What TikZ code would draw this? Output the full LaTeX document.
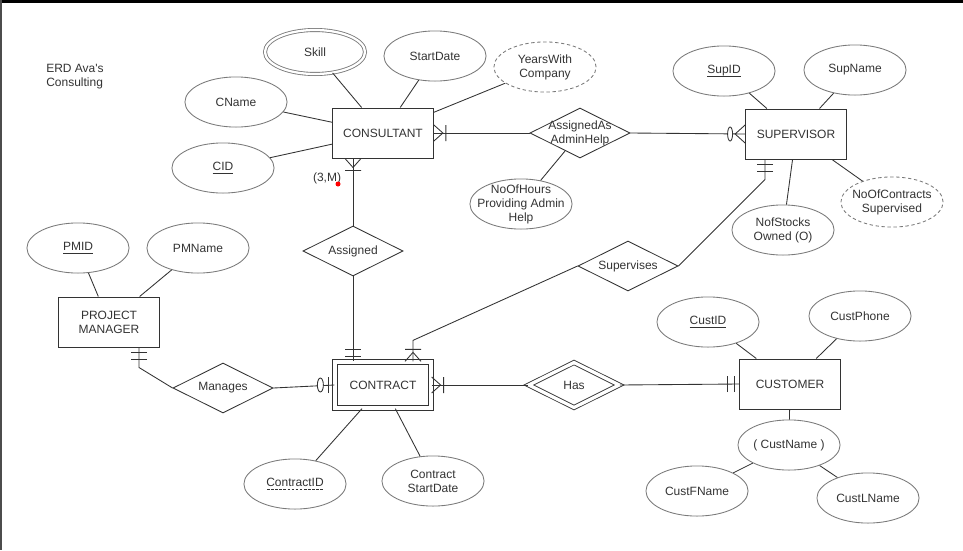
\documentclass[tikz,border=0pt]{standalone}
\usepackage{fontspec}
\setmainfont{Liberation Sans}
\usepackage{tikz}
\usetikzlibrary{shapes.geometric, calc}

\definecolor{inkgray}{HTML}{333333}
\definecolor{ovalgray}{HTML}{7A7A7A}

% key attribute: solid underline; partial key: dashed underline
\newcommand{\keyul}[1]{\setbox0\hbox{#1}\leavevmode\rlap{\copy0}\raisebox{-1.8pt}{\vrule width \wd0 height 0.6pt depth 0pt}}
\newcommand{\partul}[1]{\setbox0\hbox{#1}\leavevmode\rlap{\copy0}\raisebox{-1.8pt}{\hbox to \wd0{\xleaders\hbox to 3pt{\hss\vrule width 2pt height 0.6pt depth 0pt\hss}\hfil}}}

\begin{document}
\begin{tikzpicture}[
  x=0.75pt, y=-0.75pt,
  font=\fontsize{9}{10.5}\selectfont, text=inkgray,
  entity/.style ={rectangle, draw=inkgray, line width=0.65pt, align=center, minimum width=75.7pt, minimum height=37.6pt, inner sep=2pt},
  weak/.style   ={entity, double, double distance=3.1pt, minimum width=72.3pt, minimum height=34.8pt},
  attr/.style   ={ellipse, draw=ovalgray, line width=0.65pt, align=center, minimum width=76.6pt, minimum height=37.6pt, inner sep=-8pt},
  derived/.style={attr, dash pattern=on 2.5pt off 2pt},
  multi/.style  ={attr, double, double distance=1.7pt, minimum width=75pt, minimum height=33pt},
  rel/.style    ={diamond, shape aspect=2, draw=inkgray, line width=0.65pt, align=center, minimum width=75pt, minimum height=37.5pt, inner sep=-8pt},
  idrel/.style  ={rel, double, double distance=2.5pt, minimum width=68pt, minimum height=34pt},
  link/.style   ={draw=inkgray, line width=0.65pt},
  onemany/.pic  ={\draw[link] (0,-8) -- (9,0) -- (0,8) (12,-8) -- (12,8);},
  oneone/.pic   ={\draw[link] (5,-8) -- (5,8) (12,-8) -- (12,8);},
  zeromany/.pic ={\draw[link] (0,-9) -- (10,0) -- (0,9); \draw[link, fill=white] (15,0) ellipse [x radius=2.5, y radius=7];},
  zeroone/.pic  ={\draw[link] (6,-8) -- (6,8); \draw[link, fill=white] (14,0) ellipse [x radius=3, y radius=7];}
  ]

  \useasboundingbox (0,0) rectangle (963,550);
  \fill[black] (0,0) rectangle (963,3);
  \fill[black!70] (0,0) rectangle (1.5,550);

  \node[anchor=north west, align=left, inner sep=0pt] (title) at (46,64) {ERD Ava\textquotesingle s\\Consulting};

  % entities
  \node[entity] (CONSULTANT) at (383,133) {CONSULTANT};
  \node[entity] (SUPERVISOR) at (796,134) {SUPERVISOR};
  \node[entity] (PM)         at (109,322) {PROJECT\\MANAGER};
  \node[weak]   (CONTRACT)   at (383,385) {CONTRACT};
  \node[entity] (CUSTOMER)   at (790,384) {CUSTOMER};

  % relationships
  \node[rel]   (AAH)        at (580,133) {AssignedAs\\AdminHelp};
  \node[rel]   (Assigned)   at (353,251) {Assigned};
  \node[rel]   (Supervises) at (628,266) {Supervises};
  \node[rel]   (Manages)    at (223,388) {Manages};
  \node[idrel] (Has)        at (574,385) {Has};

  % attributes
  \node[multi]   (Skill)         at (315,52)  {Skill};
  \node[attr]    (StartDate)     at (435,56)  {StartDate};
  \node[derived] (YearsWith)     at (545,67)  {YearsWith\\Company};
  \node[attr]    (CName)         at (236,102) {CName};
  \node[attr]    (CID)           at (223,168) {\keyul{CID}};
  \node[attr]    (NoOfHours)     at (521,204) {NoOfHours\\Providing Admin\\Help};
  \node[attr]    (SupID)         at (724,71)  {\keyul{SupID}};
  \node[attr]    (SupName)       at (855,70)  {SupName};
  \node[attr]    (NofStocks)     at (783,230) {NofStocks\\Owned (O)};
  \node[derived] (NoOfContracts) at (892,202) {NoOfContracts\\Supervised};
  \node[attr]    (PMID)          at (78,248)  {\keyul{PMID}};
  \node[attr]    (PMName)        at (198,248) {PMName};
  \node[attr]    (ContractID)    at (295,484) {\partul{ContractID}};
  \node[attr]    (ContractStart) at (433,481) {Contract\\StartDate};
  \node[attr]    (CustID)        at (708,322) {\keyul{CustID}};
  \node[attr]    (CustPhone)     at (860,316) {CustPhone};
  \node[attr]    (CustName)      at (789,445) {( CustName )};
  \node[attr]    (CustFName)     at (697,491) {CustFName};
  \node[attr]    (CustLName)     at (868,498) {CustLName};

  \node (card) at (327,178) {(3,M)};
  \fill[red] (338,184) circle [radius=2.5];

  % attribute links
  \foreach \a in {Skill, StartDate, YearsWith, CName, CID}
    \draw[link] (\a) -- (CONSULTANT);
  \foreach \a in {SupID, SupName, NofStocks, NoOfContracts}
    \draw[link] (\a) -- (SUPERVISOR);
  \foreach \a in {PMID, PMName}
    \draw[link] (\a) -- (PM);
  \foreach \a in {ContractID, ContractStart}
    \draw[link] (\a) -- (CONTRACT);
  \foreach \a in {CustID, CustPhone, CustName}
    \draw[link] (\a) -- (CUSTOMER);
  \draw[link] (CustFName) -- (CustName);
  \draw[link] (CustLName) -- (CustName);
  \draw[link] (NoOfHours) -- (AAH);

  % relationship links
  \coordinate (conbot) at (Assigned.north |- CONSULTANT.south);
  \coordinate (ctrtop) at (Assigned.south |- CONTRACT.north);
  \coordinate (supbot) at ($(SUPERVISOR.south)+(-31,0)$);
  \coordinate (ctrtop2) at ($(CONTRACT.north)+(30,0)$);
  \coordinate (pmbot) at ($(PM.south)+(30,0)$);

  \draw[link] (CONSULTANT.east) -- (AAH.west);
  \pic at (CONSULTANT.east) {onemany};
  \draw[link] (AAH.east) -- (SUPERVISOR.west);
  \pic[rotate=180] at (SUPERVISOR.west) {zeromany};

  \draw[link] (Assigned.north) -- (conbot);
  \pic[rotate=-90] at (conbot) {onemany};
  \draw[link] (Assigned.south) -- (ctrtop);
  \pic[rotate=90] at (ctrtop) {oneone};

  \draw[link] (supbot) -- ++(0,20) -- (Supervises.east);
  \pic[rotate=-90] at (supbot) {oneone};
  \draw[link] (Supervises.west) -- ($(ctrtop2)+(0,-21)$) -- (ctrtop2);
  \pic[rotate=90] at (ctrtop2) {onemany};

  \draw[link] (pmbot) -- ++(0,20) -- (Manages.west);
  \pic[rotate=-90] at (pmbot) {oneone};
  \draw[link] (Manages.east) -- (CONTRACT.west);
  \pic[rotate=180] at (CONTRACT.west) {zeroone};

  \draw[link] (CONTRACT.east) -- (Has.west);
  \pic at (CONTRACT.east) {onemany};
  \draw[link] (Has.east) -- (CUSTOMER.west);
  \pic[rotate=180] at (CUSTOMER.west) {oneone};

\end{tikzpicture}
\end{document}
